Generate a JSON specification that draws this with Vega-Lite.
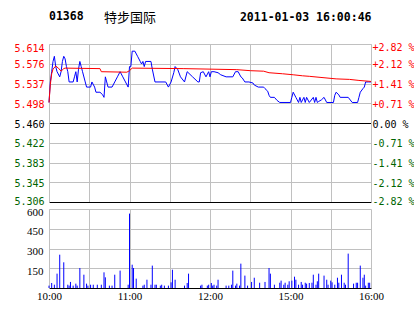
{
  "$schema": "https://vega.github.io/schema/vega-lite/v6.json",
  "background": "#FFFFFF",
  "padding": {"left": 13, "top": 10, "right": 0, "bottom": 0},
  "autosize": {"type": "pad"},
  "bounds": "flush",
  "spacing": 7,
  "config": {"view": {"stroke": null}},
  "title": {
    "text": "特步国际",
    "anchor": "start",
    "frame": "group",
    "dx": 55,
    "dy": 18,
    "font": "Noto Sans CJK SC",
    "fontSize": 13,
    "fontWeight": "normal",
    "color": "#000000"
  },
  "datasets": {
    "price": [
      {"m":0,"p":5.50},{"m":1,"p":5.54},{"m":2,"p":5.56},{"m":3,"p":5.58},{"m":4,"p":5.59},{"m":5,"p":5.57},{"m":6,"p":5.56},{"m":8,"p":5.55},{"m":9,"p":5.56},{"m":10,"p":5.58},{"m":11,"p":5.59},{"m":12,"p":5.585},{"m":13,"p":5.57},{"m":14,"p":5.56},{"m":15,"p":5.54},{"m":18,"p":5.54},{"m":19,"p":5.55},{"m":20,"p":5.56},{"m":21,"p":5.54},{"m":22,"p":5.565},{"m":23,"p":5.58},{"m":24,"p":5.57},{"m":25,"p":5.56},{"m":27,"p":5.54},{"m":28,"p":5.53},{"m":31,"p":5.53},{"m":32,"p":5.54},{"m":34,"p":5.53},{"m":35,"p":5.52},{"m":38,"p":5.52},{"m":40,"p":5.515},{"m":41,"p":5.51},{"m":42,"p":5.55},{"m":43,"p":5.54},{"m":44,"p":5.53},{"m":47,"p":5.53},{"m":49,"p":5.54},{"m":51,"p":5.55},{"m":53,"p":5.56},{"m":55,"p":5.55},{"m":57,"p":5.54},{"m":59,"p":5.53},{"m":60,"p":5.57},{"m":61,"p":5.57},{"m":62,"p":5.60},{"m":64,"p":5.60},{"m":66,"p":5.59},{"m":68,"p":5.58},{"m":69,"p":5.575},{"m":70,"p":5.58},{"m":71,"p":5.57},{"m":72,"p":5.58},{"m":76,"p":5.58},{"m":77,"p":5.565},{"m":79,"p":5.54},{"m":87,"p":5.54},{"m":89,"p":5.53},{"m":91,"p":5.54},{"m":93,"p":5.558},{"m":94,"p":5.57},{"m":96,"p":5.564},{"m":98,"p":5.55},{"m":101,"p":5.54},{"m":103,"p":5.56},{"m":107,"p":5.55},{"m":111,"p":5.54},{"m":112,"p":5.54},{"m":113,"p":5.558},{"m":115,"p":5.56},{"m":117,"p":5.55},{"m":119,"p":5.56},{"m":120,"p":5.55},{"m":121,"p":5.56},{"m":123,"p":5.56},{"m":126,"p":5.558},{"m":128,"p":5.554},{"m":132,"p":5.55},{"m":137,"p":5.55},{"m":139,"p":5.56},{"m":141,"p":5.56},{"m":143,"p":5.55},{"m":144,"p":5.548},{"m":146,"p":5.54},{"m":149,"p":5.54},{"m":152,"p":5.538},{"m":153,"p":5.534},{"m":156,"p":5.53},{"m":160,"p":5.53},{"m":161,"p":5.527},{"m":163,"p":5.522},{"m":164,"p":5.514},{"m":165,"p":5.51},{"m":168,"p":5.51},{"m":170,"p":5.504},{"m":172,"p":5.50},{"m":180,"p":5.50},{"m":181,"p":5.51},{"m":182,"p":5.52},{"m":184,"p":5.51},{"m":185,"p":5.505},{"m":186,"p":5.50},{"m":187,"p":5.51},{"m":188,"p":5.50},{"m":190,"p":5.51},{"m":191,"p":5.50},{"m":192,"p":5.51},{"m":194,"p":5.50},{"m":197,"p":5.51},{"m":198,"p":5.50},{"m":199,"p":5.51},{"m":200,"p":5.50},{"m":201,"p":5.502},{"m":203,"p":5.505},{"m":205,"p":5.51},{"m":207,"p":5.50},{"m":212,"p":5.50},{"m":213,"p":5.514},{"m":214,"p":5.52},{"m":216,"p":5.515},{"m":217,"p":5.51},{"m":223,"p":5.51},{"m":226,"p":5.50},{"m":230,"p":5.50},{"m":231,"p":5.51},{"m":232,"p":5.52},{"m":234,"p":5.527},{"m":235,"p":5.53},{"m":236,"p":5.54},{"m":238,"p":5.54},{"m":240,"p":5.54}
    ],
    "avg": [
      {"m":0,"a":5.500},{"m":1,"a":5.535},{"m":2,"a":5.556},{"m":3,"a":5.565},{"m":5,"a":5.571},{"m":7,"a":5.567},{"m":9,"a":5.561},{"m":11,"a":5.566},{"m":12,"a":5.567},{"m":38,"a":5.566},{"m":39,"a":5.560},{"m":58,"a":5.559},{"m":60,"a":5.562},{"m":62,"a":5.567},{"m":100,"a":5.566},{"m":120,"a":5.565},{"m":140,"a":5.564},{"m":150,"a":5.562},{"m":160,"a":5.561},{"m":164,"a":5.558},{"m":174,"a":5.556},{"m":182,"a":5.554},{"m":189,"a":5.552},{"m":194,"a":5.551},{"m":202,"a":5.549},{"m":214,"a":5.546},{"m":224,"a":5.545},{"m":231,"a":5.543},{"m":240,"a":5.541}
    ],
    "vol": [
      {"m":0,"v":18},{"m":2,"v":38},{"m":4,"v":25},{"m":6,"v":109},{"m":8,"v":253},{"m":11,"v":195},{"m":14,"v":25},{"m":15,"v":18},{"m":16,"v":46},{"m":18,"v":18},{"m":20,"v":33},{"m":21,"v":18},{"m":23,"v":152},{"m":26,"v":101},{"m":28,"v":33},{"m":29,"v":18},{"m":31,"v":25},{"m":33,"v":25},{"m":36,"v":25},{"m":39,"v":25},{"m":41,"v":119},{"m":42,"v":81},{"m":45,"v":18},{"m":47,"v":18},{"m":49,"v":101},{"m":53,"v":132},{"m":59,"v":25},{"m":60,"v":565},{"m":62,"v":177},{"m":63,"v":152},{"m":65,"v":71},{"m":70,"v":18},{"m":71,"v":25},{"m":73,"v":63},{"m":76,"v":25},{"m":77,"v":170},{"m":79,"v":25},{"m":80,"v":25},{"m":83,"v":18},{"m":84,"v":25},{"m":86,"v":18},{"m":89,"v":18},{"m":91,"v":43},{"m":92,"v":139},{"m":94,"v":63},{"m":101,"v":18},{"m":103,"v":38},{"m":104,"v":109},{"m":113,"v":18},{"m":114,"v":25},{"m":118,"v":18},{"m":119,"v":25},{"m":121,"v":38},{"m":122,"v":18},{"m":123,"v":25},{"m":125,"v":18},{"m":126,"v":63},{"m":132,"v":18},{"m":134,"v":18},{"m":136,"v":25},{"m":137,"v":132},{"m":139,"v":18},{"m":140,"v":33},{"m":142,"v":18},{"m":143,"v":185},{"m":146,"v":94},{"m":148,"v":18},{"m":151,"v":46},{"m":153,"v":78},{"m":157,"v":40},{"m":161,"v":46},{"m":164,"v":152},{"m":165,"v":109},{"m":168,"v":25},{"m":172,"v":40},{"m":173,"v":56},{"m":175,"v":25},{"m":176,"v":40},{"m":178,"v":25},{"m":179,"v":51},{"m":181,"v":56},{"m":183,"v":86},{"m":184,"v":63},{"m":186,"v":25},{"m":188,"v":46},{"m":189,"v":25},{"m":191,"v":40},{"m":192,"v":33},{"m":194,"v":38},{"m":196,"v":40},{"m":197,"v":101},{"m":199,"v":25},{"m":200,"v":51},{"m":201,"v":109},{"m":205,"v":94},{"m":207,"v":63},{"m":208,"v":25},{"m":210,"v":56},{"m":211,"v":43},{"m":213,"v":25},{"m":215,"v":78},{"m":216,"v":40},{"m":218,"v":101},{"m":220,"v":40},{"m":221,"v":25},{"m":223,"v":261},{"m":227,"v":33},{"m":229,"v":40},{"m":230,"v":40},{"m":232,"v":170},{"m":234,"v":78},{"m":235,"v":101},{"m":236,"v":18},{"m":238,"v":40},{"m":239,"v":40}
    ]
  },
  "vconcat": [
    {
      "width": 322,
      "height": 158,
      "title": {
        "text": "01368",
        "anchor": "start",
        "frame": "group",
        "font": "DejaVu Sans Mono",
        "fontSize": 11.5,
        "fontWeight": "bold",
        "color": "#000000",
        "offset": 0,
        "dy": 11
      },
      "layer": [
        {
          "data": {"name": "price"},
          "mark": {"type": "line", "color": "#0000FF", "strokeWidth": 1},
          "encoding": {
            "x": {
              "field": "m", "type": "quantitative",
              "scale": {"domain": [0, 240], "nice": false, "zero": false},
              "axis": {"orient": "bottom", "values": [0,30,60,90,120,150,180,210,240], "labels": false, "ticks": false, "domain": false, "grid": true, "gridColor": "#C0C0C0", "gridOpacity": 1, "title": null}
            },
            "y": {
              "field": "p", "type": "quantitative",
              "scale": {"domain": [5.306, 5.614], "nice": false, "zero": false},
              "axis": {
                "orient": "left",
                "values": [5.306, 5.3445, 5.383, 5.4215, 5.46, 5.4985, 5.537, 5.5755, 5.614],
                "labelExpr": "format(datum.value + (datum.value == 5.4985 ? -0.0002 : 0.0002), '.3f')",
                "labelFont": "DejaVu Sans Mono",
                "labelFontSize": 10,
                "labelPadding": 5,
                "labelOffset": {"condition": [{"test": "datum.value > 5.6", "value": 4}, {"test": "datum.value < 5.31", "value": -1}], "value": 1},
                "labelColor": {"condition": [{"test": "datum.value > 5.4605", "value": "#FF0000"}, {"test": "datum.value < 5.4595", "value": "#006400"}], "value": "#000000"},
                "ticks": false,
                "domain": true,
                "domainColor": "#C0C0C0",
                "grid": true,
                "gridOpacity": 1,
                "gridColor": {"condition": {"test": "abs(datum.value - 5.46) < 0.001 || datum.value < 5.31", "value": "#000000"}, "value": "#C0C0C0"},
                "title": null
              }
            }
          }
        },
        {
          "data": {"name": "avg"},
          "mark": {"type": "line", "color": "#FF0000", "strokeWidth": 1},
          "encoding": {
            "x": {
              "field": "m", "type": "quantitative",
              "scale": {"domain": [0, 240], "nice": false, "zero": false},
              "axis": {"orient": "top", "labels": false, "ticks": false, "domain": false, "grid": false,
                "title": "2011-01-03 16:00:46", "titleAnchor": "end", "titleFont": "DejaVu Sans Mono", "titleFontSize": 11.5, "titleFontWeight": "bold", "titleColor": "#000000", "titlePadding": 22}
            },
            "y": {
              "field": "a", "type": "quantitative",
              "scale": {"domain": [5.306, 5.614], "nice": false, "zero": false},
              "axis": {
                "orient": "right",
                "values": [5.306, 5.3445, 5.383, 5.4215, 5.46, 5.4985, 5.537, 5.5755, 5.614],
                "labelExpr": "(datum.value > 5.4605 ? '+' : datum.value < 5.4595 ? '-' : '\u00a0') + format(abs(datum.value - 5.46) / 5.46 * 100, '.2f') + ' %'",
                "labelFont": "DejaVu Sans Mono",
                "labelFontSize": 10,
                "labelPadding": 1,
                "labelOffset": {"condition": [{"test": "datum.value > 5.6", "value": 3}, {"test": "datum.value < 5.31", "value": -1}], "value": 1},
                "labelColor": {"condition": [{"test": "datum.value > 5.4605", "value": "#FF0000"}, {"test": "datum.value < 5.4595", "value": "#006400"}], "value": "#000000"},
                "ticks": false,
                "domain": true,
                "domainColor": "#C0C0C0",
                "grid": false,
                "title": null
              }
            }
          }
        }
      ],
      "resolve": {"axis": {"x": "independent", "y": "independent"}}
    },
    {
      "width": 322,
      "height": 79,
      "data": {"name": "vol"},
      "mark": {"type": "rule", "color": "#0000FF", "strokeWidth": 1},
      "encoding": {
        "x": {
          "field": "m", "type": "quantitative",
          "scale": {"domain": [0, 240], "nice": false, "zero": false},
          "axis": {
            "values": [0,30,60,90,120,150,180,210,240],
            "labelExpr": "datum.value == 0 ? '10:00' : datum.value == 60 ? '11:00' : datum.value == 120 ? '12:00' : datum.value == 180 ? '15:00' : datum.value == 240 ? '16:00' : ''",
            "labelFlush": false,
            "labelOverlap": false,
            "labelFont": "Liberation Sans Narrow",
            "labelFontSize": 11,
            "labelColor": "#000000",
            "labelPadding": 2,
            "ticks": false,
            "domain": false,
            "grid": true,
            "gridColor": "#C0C0C0",
            "gridOpacity": 1,
            "title": null
          }
        },
        "y": {
          "field": "v", "type": "quantitative",
          "scale": {"domain": [0, 600], "nice": false, "zero": true},
          "axis": {
            "values": [0, 150, 300, 450, 600],
            "labelExpr": "datum.value == 0 ? '' : datum.label",
            "labelFont": "Liberation Sans Narrow",
            "labelFontSize": 11,
            "labelColor": "#000000",
            "labelPadding": 6,
            "labelOffset": 3,
            "ticks": false,
            "domain": true,
            "domainColor": "#C0C0C0",
            "grid": true,
            "gridOpacity": 1,
            "gridColor": {"condition": {"test": "datum.value == 0", "value": "#000000"}, "value": "#C0C0C0"},
            "title": null
          }
        },
        "y2": {"datum": 0}
      }
    }
  ]
}
